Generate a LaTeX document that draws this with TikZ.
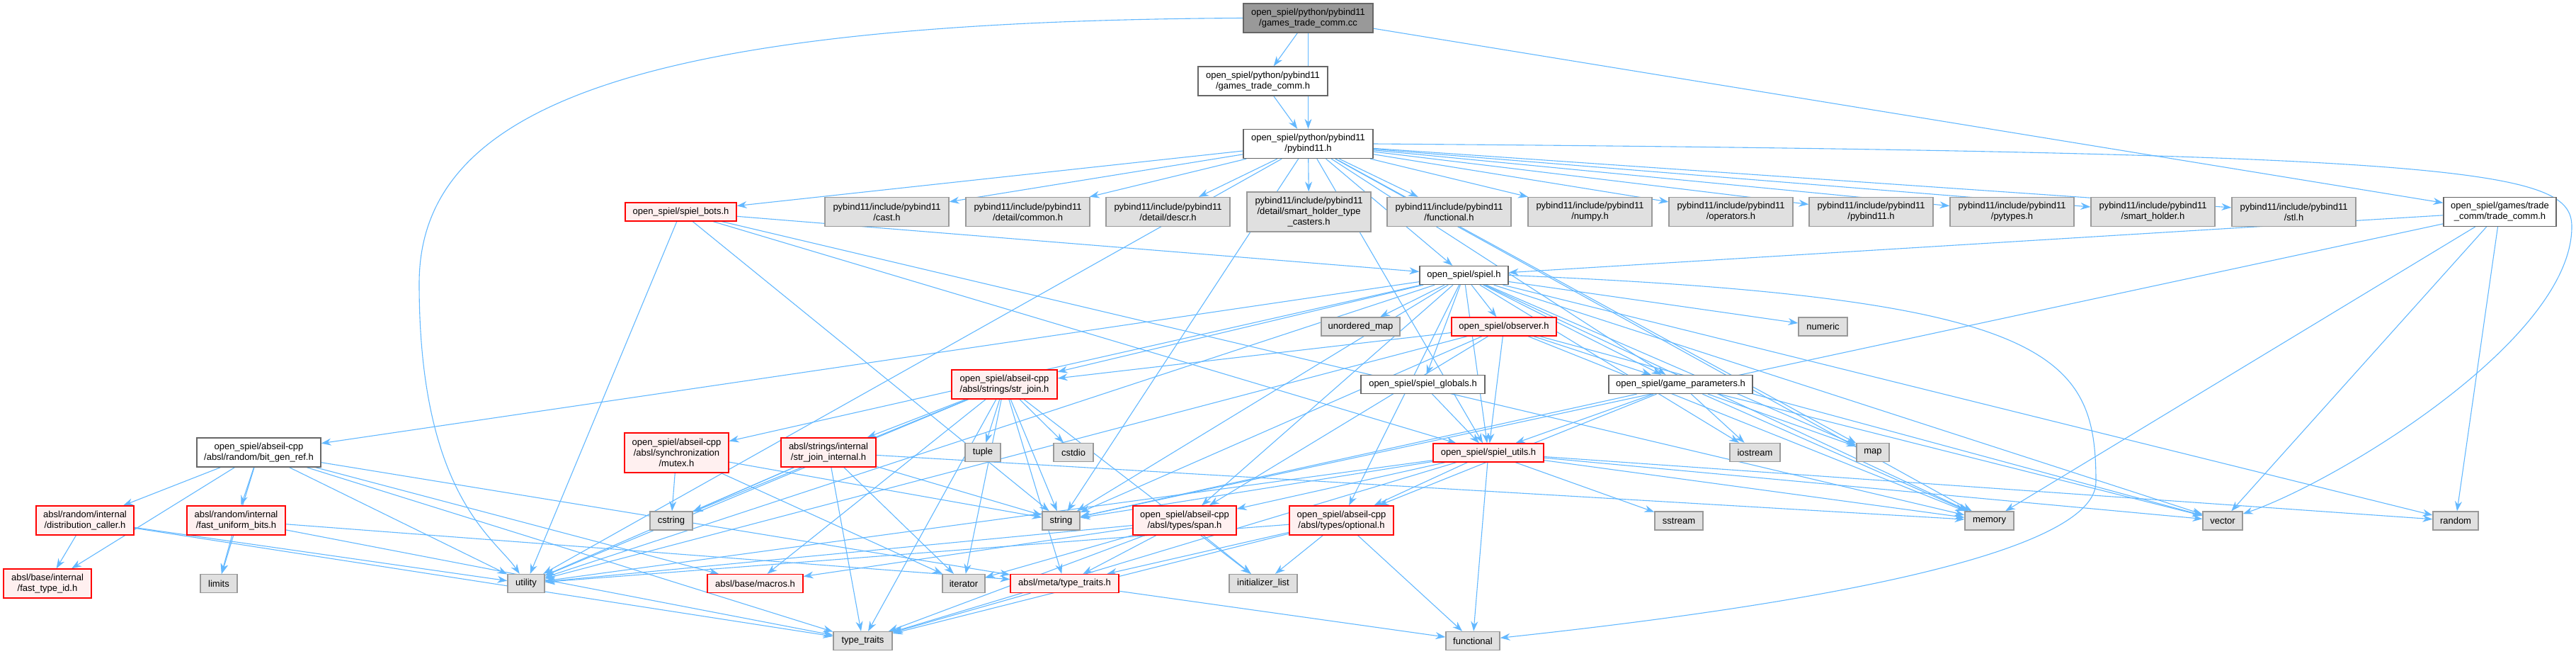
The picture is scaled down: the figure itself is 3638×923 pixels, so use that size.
\documentclass[tikz,border=0pt]{standalone}
\usepackage{fontspec}
\setmainfont{Liberation Sans}
\usetikzlibrary{arrows.meta,backgrounds}
\definecolor{edgeblue}{HTML}{63B8FF}
\definecolor{filedraw}{HTML}{666666}
\definecolor{sysdraw}{HTML}{999999}
\definecolor{sysfill}{HTML}{E0E0E0}
\definecolor{truncdraw}{HTML}{FF0000}
\definecolor{truncfill}{HTML}{FFF0F0}
\definecolor{rootfill}{HTML}{999999}

\begin{document}
\begin{tikzpicture}[
  x=1pt, y=-1pt,
  base/.style={rectangle, line width=1.3pt, inner sep=0pt, align=center,
               font=\fontsize{13}{15}\selectfont},
  file/.style={base, draw=filedraw, fill=white},
  sys/.style={base, draw=sysdraw, fill=sysfill},
  trunc/.style={base, draw=truncdraw, fill=truncfill},
  root/.style={base, draw=filedraw, fill=rootfill},
  wh/.style 2 args={minimum width=#1pt, minimum height=#2pt},
  dep/.style={draw=edgeblue, line width=1.1pt, -{Stealth[length=14pt,width=10pt]}}
]
\useasboundingbox (0,0) rectangle (3638,923);

% top of the graph
\node[root, wh={183}{41}] (cc) at (1847.5,25.5) {open\_spiel/python/pybind11\\/games\_trade\_comm.cc};
\node[file, wh={183}{41}] (gtch) at (1783.5,114.5) {open\_spiel/python/pybind11\\/games\_trade\_comm.h};
\node[file, wh={183}{41}] (pyb) at (1847.5,203) {open\_spiel/python/pybind11\\/pybind11.h};

% pybind11 headers
\node[trunc, wh={157}{26}] (bots) at (961.5,299) {open\_spiel/spiel\_bots.h};
\node[sys, wh={175}{41}] (cast) at (1252.5,299) {pybind11/include/pybind11\\/cast.h};
\node[sys, wh={175}{41}] (common) at (1451.5,299) {pybind11/include/pybind11\\/detail/common.h};
\node[sys, wh={175}{41}] (descr) at (1649.5,299) {pybind11/include/pybind11\\/detail/descr.h};
\node[sys, wh={175}{56}] (shtc) at (1848.5,299) {pybind11/include/pybind11\\/detail/smart\_holder\_type\\\_casters.h};
\node[sys, wh={175}{41}] (funch) at (2046.5,299) {pybind11/include/pybind11\\/functional.h};
\node[sys, wh={175}{41}] (numpy) at (2245.5,299) {pybind11/include/pybind11\\/numpy.h};
\node[sys, wh={175}{41}] (oper) at (2444.5,299) {pybind11/include/pybind11\\/operators.h};
\node[sys, wh={175}{41}] (pybh) at (2642.5,299) {pybind11/include/pybind11\\/pybind11.h};
\node[sys, wh={175}{41}] (pytypes) at (2841.5,299) {pybind11/include/pybind11\\/pytypes.h};
\node[sys, wh={175}{41}] (smhold) at (3040.5,299) {pybind11/include/pybind11\\/smart\_holder.h};
\node[sys, wh={175}{41}] (stl) at (3239.5,299) {pybind11/include/pybind11\\/stl.h};
\node[file, wh={159}{41}] (trade) at (3530.5,299) {open\_spiel/games/trade\\\_comm/trade\_comm.h};

% spiel.h and its direct includes
\node[file, wh={125}{26}] (spiel) at (2067.5,388.5) {open\_spiel/spiel.h};
\node[sys, wh={111}{26}] (umap) at (1921.5,461) {unordered\_map};
\node[trunc, wh={148}{26}] (observer) at (2124,461) {open\_spiel/observer.h};
\node[sys, wh={69}{26}] (numeric) at (2574.5,461) {numeric};
\node[trunc, wh={149}{41}] (strjoin) at (1418.5,542.5) {open\_spiel/abseil-cpp\\/absl/strings/str\_join.h};
\node[file, wh={175}{26}] (globals) at (2009.5,542.5) {open\_spiel/spiel\_globals.h};
\node[file, wh={203}{26}] (params) at (2373.5,542.5) {open\_spiel/game\_parameters.h};

% middle rows
\node[file, wh={175}{41}] (bitgen) at (365.5,638.5) {open\_spiel/abseil-cpp\\/absl/random/bit\_gen\_ref.h};
\node[trunc, wh={147}{56}] (mutex) at (955.5,639) {open\_spiel/abseil-cpp\\/absl/synchronization\\/mutex.h};
\node[trunc, wh={134}{41}] (sji) at (1170,638.5) {absl/strings/internal\\/str\_join\_internal.h};
\node[sys, wh={50}{26}] (tuple) at (1388,638.5) {tuple};
\node[sys, wh={56}{26}] (cstdio) at (1516,638.5) {cstdio};
\node[trunc, wh={156}{26}] (utils) at (2102,639) {open\_spiel/spiel\_utils.h};
\node[sys, wh={71}{26}] (iostream) at (2478.5,638.5) {iostream};
\node[sys, wh={46}{26}] (map) at (2645,638.5) {map};

\node[trunc, wh={138}{41}] (distcall) at (120,734.5) {absl/random/internal\\/distribution\_caller.h};
\node[trunc, wh={139}{41}] (fastbits) at (333.5,734.5) {absl/random/internal\\/fast\_uniform\_bits.h};
\node[sys, wh={60}{26}] (cstring) at (948,735) {cstring};
\node[sys, wh={53}{26}] (string) at (1498.5,735) {string};
\node[trunc, wh={146}{41}] (span) at (1673,734.5) {open\_spiel/abseil-cpp\\/absl/types/span.h};
\node[trunc, wh={147}{41}] (optional) at (1894.5,734.5) {open\_spiel/abseil-cpp\\/absl/types/optional.h};
\node[sys, wh={68}{26}] (sstream) at (2371,735) {sstream};
\node[sys, wh={69}{26}] (memory) at (2809.5,735) {memory};
\node[sys, wh={56}{26}] (vector) at (3139,735) {vector};
\node[sys, wh={64}{26}] (random) at (3468,735) {random};

% bottom rows
\node[trunc, wh={124}{41}] (typeid) at (67,823.5) {absl/base/internal\\/fast\_type\_id.h};
\node[sys, wh={52}{26}] (limits) at (309,823.5) {limits};
\node[sys, wh={52}{26}] (utility) at (743,823.5) {utility};
\node[trunc, wh={135}{26}] (macros) at (1066.5,823.5) {absl/base/macros.h};
\node[sys, wh={60}{26}] (iterator) at (1361,823.5) {iterator};
\node[trunc, wh={153}{26}] (metatt) at (1503.5,823.5) {absl/meta/type\_traits.h};
\node[sys, wh={96}{26}] (initlist) at (1784,823.5) {initializer\_list};
\node[sys, wh={83}{26}] (typetraits) at (1218.5,904.5) {type\_traits};
\node[sys, wh={76}{26}] (functional) at (2080,904.5) {functional};

\begin{scope}[on background layer]
% games_trade_comm.cc
\draw[dep] (cc) -- (gtch);
\draw[dep] (cc) -- (pyb);
\draw[dep] (cc) -- (trade);
\draw[dep] (cc.west) .. controls (900,30) and (592,150) .. (592,400)
  .. controls (592,700) and (700,760) .. (utility);
\draw[dep] (gtch) -- (pyb);

% pybind11.h
\draw[dep] (pyb) -- (bots);
\draw[dep] (pyb) -- (cast);
\draw[dep] (pyb) -- (common);
\draw[dep] (pyb) -- (descr);
\draw[dep] (pyb) -- (shtc);
\draw[dep] (pyb) -- (funch);
\draw[dep] (pyb) -- (numpy);
\draw[dep] (pyb) -- (oper);
\draw[dep] (pyb) -- (pybh);
\draw[dep] (pyb) -- (pytypes);
\draw[dep] (pyb) -- (smhold);
\draw[dep] (pyb) -- (stl);
\draw[dep] (pyb) -- (spiel);
\draw[dep] (pyb) -- (params);
\draw[dep] (pyb) -- (utils);
\draw[dep] (pyb) -- (memory);
\draw[dep] (pyb) -- (string);
\draw[dep] (pyb) -- (utility);
\draw[dep] (pyb) -- (map);
\draw[dep] (pyb.east) .. controls (3500,215) and (3632,240) .. (3632,320)
  .. controls (3632,480) and (3300,680) .. (vector);

% spiel_bots.h and trade_comm.h
\draw[dep] (bots) -- (spiel);
\draw[dep] (bots) -- (utils);
\draw[dep] (bots) -- (memory);
\draw[dep] (bots) -- (string);
\draw[dep] (bots) -- (utility);
\draw[dep] (trade) -- (spiel);
\draw[dep] (trade) -- (memory);
\draw[dep] (trade) -- (vector);
\draw[dep] (trade) -- (random);
\draw[dep] (trade) -- (string);

% spiel.h
\draw[dep] (spiel) -- (umap);
\draw[dep] (spiel) -- (observer);
\draw[dep] (spiel) -- (numeric);
\draw[dep] (spiel) -- (strjoin);
\draw[dep] (spiel) -- (globals);
\draw[dep] (spiel) -- (params);
\draw[dep] (spiel) -- (bitgen);
\draw[dep] (spiel) -- (mutex);
\draw[dep] (spiel) -- (utils);
\draw[dep] (spiel) -- (iostream);
\draw[dep] (spiel) -- (map);
\draw[dep] (spiel) -- (string);
\draw[dep] (spiel) -- (span);
\draw[dep] (spiel) -- (optional);
\draw[dep] (spiel) -- (memory);
\draw[dep] (spiel) -- (vector);
\draw[dep] (spiel) -- (random);
\draw[dep] (spiel) -- (utility);
\draw[dep] (spiel.east) .. controls (2900,420) and (2960,500) .. (2960,680)
  .. controls (2960,800) and (2400,870) .. (functional);

% observer.h, spiel_globals.h, game_parameters.h
\draw[dep] (observer) -- (strjoin);
\draw[dep] (observer) -- (params);
\draw[dep] (observer) -- (utils);
\draw[dep] (observer) -- (span);
\draw[dep] (observer) -- (string);
\draw[dep] (observer) -- (memory);
\draw[dep] (observer) -- (vector);
\draw[dep] (observer) -- (utility);
\draw[dep] (globals) -- (utils);
\draw[dep] (params) -- (iostream);
\draw[dep] (params) -- (map);
\draw[dep] (params) -- (memory);
\draw[dep] (params) -- (utils);
\draw[dep] (params) -- (optional);
\draw[dep] (params) -- (string);
\draw[dep] (params) -- (vector);

% str_join.h and friends
\draw[dep] (strjoin) -- (sji);
\draw[dep] (strjoin) -- (tuple);
\draw[dep] (strjoin) -- (cstdio);
\draw[dep] (strjoin) -- (cstring);
\draw[dep] (strjoin) -- (string);
\draw[dep] (strjoin) -- (initlist);
\draw[dep] (strjoin) -- (iterator);
\draw[dep] (strjoin) -- (macros);
\draw[dep] (strjoin) -- (metatt);
\draw[dep] (strjoin) -- (typetraits);
\draw[dep] (strjoin) -- (utility);
\draw[dep] (sji) -- (cstring);
\draw[dep] (sji) -- (iterator);
\draw[dep] (sji) -- (memory);
\draw[dep] (sji) -- (string);
\draw[dep] (sji) -- (typetraits);
\draw[dep] (sji) -- (utility);
\draw[dep] (mutex) -- (cstring);
\draw[dep] (mutex) -- (string);
\draw[dep] (mutex) -- (iterator);

% bit_gen_ref.h
\draw[dep] (bitgen) -- (typeid);
\draw[dep] (bitgen) -- (distcall);
\draw[dep] (bitgen) -- (limits);
\draw[dep] (bitgen) -- (fastbits);
\draw[dep] (bitgen) -- (typetraits);
\draw[dep] (bitgen) -- (utility);
\draw[dep] (bitgen) -- (macros);
\draw[dep] (bitgen) -- (metatt);
\draw[dep] (distcall) -- (typeid);
\draw[dep] (distcall) -- (utility);
\draw[dep] (distcall) -- (typetraits);
\draw[dep] (fastbits) -- (limits);
\draw[dep] (fastbits) -- (typetraits);
\draw[dep] (fastbits) -- (metatt);

% spiel_utils.h, span.h, optional.h
\draw[dep] (utils) -- (string);
\draw[dep] (utils) -- (span);
\draw[dep] (utils) -- (optional);
\draw[dep] (utils) -- (sstream);
\draw[dep] (utils) -- (memory);
\draw[dep] (utils) -- (vector);
\draw[dep] (utils) -- (random);
\draw[dep] (utils) -- (functional);
\draw[dep] (utils) -- (typetraits);
\draw[dep] (utils) -- (utility);
\draw[dep] (span) -- (initlist);
\draw[dep] (span) -- (iterator);
\draw[dep] (span) -- (metatt);
\draw[dep] (span) -- (typetraits);
\draw[dep] (span) -- (utility);
\draw[dep] (span) -- (macros);
\draw[dep] (optional) -- (functional);
\draw[dep] (optional) -- (initlist);
\draw[dep] (optional) -- (metatt);
\draw[dep] (optional) -- (typetraits);
\draw[dep] (optional) -- (utility);
\draw[dep] (metatt) -- (typetraits);
\draw[dep] (metatt) -- (functional);
\end{scope}

\end{tikzpicture}
\end{document}
